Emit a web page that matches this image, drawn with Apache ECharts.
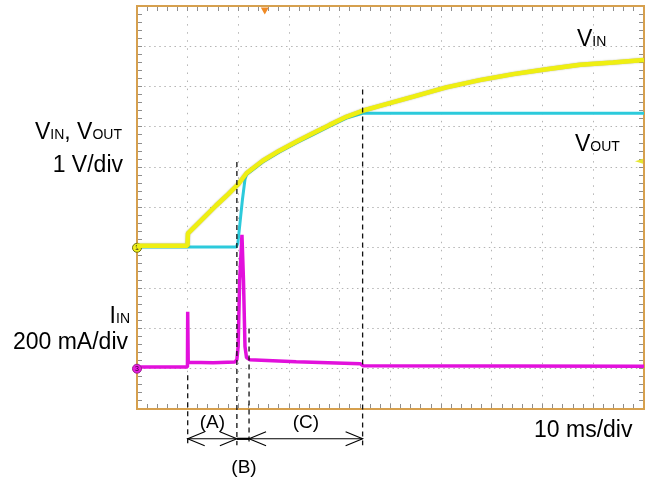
<!DOCTYPE html>
<html>
<head>
<meta charset="utf-8">
<script src="https://cdn.jsdelivr.net/npm/echarts@6/dist/echarts.min.js"></script>
<style>
  html, body { margin: 0; padding: 0; background: #ffffff; }
  #chart { width: 651px; height: 482px; }
</style>
</head>
<body>
<div id="chart"></div>
<script>
// ---- Captured waveforms (10 ms/div, 1 V/div, 200 mA/div) ----
// Input voltage, channel 1 (ms, V)
const vinTime  = [0, 9.95, 10.05, 12.0, 15.6, 18.0, 19.9, 21.6, 24.8, 28.1, 31.4, 34.7, 38.0, 41.3, 44.5, 47.9, 54.5, 61.0, 67.6, 74.2, 80.8, 87.4, 93.9, 100];
const vinVolts = [0.05, 0.05, 0.36, 0.60, 1.05, 1.33, 1.57, 1.85, 2.16, 2.41, 2.63, 2.84, 3.05, 3.25, 3.40, 3.52, 3.75, 3.98, 4.16, 4.31, 4.43, 4.54, 4.60, 4.66];

// Output voltage, channel 2 (ms, V)
const voutTime  = [0, 19.6, 19.9, 20.3, 20.8, 21.3, 21.6, 24.8, 28.1, 31.4, 34.7, 38.0, 41.3, 44.5, 100];
const voutVolts = [0.02, 0.02, 0.12, 0.60, 1.20, 1.70, 1.82, 2.13, 2.38, 2.60, 2.81, 3.02, 3.22, 3.34, 3.34];

// Input current, channel 3 (ms, mA)
const iinTime      = [0, 9.95, 10.0, 10.1, 15.0, 19.3, 19.7, 19.95, 20.25, 20.7, 21.0, 21.3, 21.6, 22.2, 31.4, 44.0, 44.6, 100];
const iinMilliamps = [8, 8, 283, 32, 30, 33, 45, 110, 440, 664, 440, 110, 55, 45, 35, 25, 15, 12];

// Start-up phases (ms)
const phaseBounds = [10, 19.7, 22.1, 44.5];
const phaseNames  = ['(A)', '(B)', '(C)'];

// Scope markers
const triggerTime = 25.2;   // ms
const triggerLevel = 2.15;  // V

// ---- Screen layout / style ----
const FONT = "'Liberation Sans', Arial, Helvetica, sans-serif";
const H_DIVS = 10, V_DIVS = 10, SUBDIVS = 5, MS_PER_DIV = 10;
const guideTopDiv = [0.84, 6.13, 2.0, 7.93];   // where each dashed guide starts (divisions)
const guideBottomDiv = -0.9;
const arrowRowDiv = -0.74;
const labelAboveDiv = -0.35;
const labelBelowDiv = -1.45;

const pairs = (xs, ys) => xs.map((x, i) => [x, ys[i]]);
const snap = v => Math.round(v - 0.5) + 0.5;

const chart = echarts.init(document.getElementById('chart'), null, { renderer: 'canvas' });

const bigTxt = { fontSize: 23, fontFamily: FONT, fill: '#000', verticalAlign: 'bottom' };
const subTxt = { fontSize: 14, fontFamily: FONT, fill: '#000', verticalAlign: 'bottom', padding: [0, 0, 2, 0] };

function label(x, y, text, align) {
  return {
    type: 'text', x: x, y: y, z: 10,
    style: { text: text, rich: { b: bigTxt, s: subTxt }, align: align, verticalAlign: 'middle', fill: '#000', fontSize: 23, fontFamily: FONT }
  };
}

// Scope graticule: dotted division lines plus sub-division ticks on the frame
function renderGraticule(params, api) {
  const ch = [];
  const P = (t, d) => api.coord([t, d]);
  const xMax = H_DIVS * MS_PER_DIV;
  const dots = { stroke: '#b4b4b4', lineWidth: 1 };
  const tick = { stroke: '#8e8e8e', lineWidth: 1 };
  const top = P(0, V_DIVS)[1], bottom = P(0, 0)[1];
  const left = P(0, 0)[0], right = P(xMax, 0)[0];
  for (let k = 1; k < H_DIVS; k++) {
    const x = snap(P(k * MS_PER_DIV, 0)[0]);
    ch.push({ type: 'line', shape: { x1: x, y1: top + 2, x2: x, y2: bottom - 2 },
      style: Object.assign({ lineDash: [1.5, 6.56] }, dots) });
  }
  for (let k = 1; k < V_DIVS; k++) {
    const y = snap(P(0, k)[1]);
    ch.push({ type: 'line', shape: { x1: left + 2, y1: y, x2: right - 2, y2: y },
      style: Object.assign({ lineDash: [1.5, 3.57] }, dots) });
  }
  for (let m = 1; m < H_DIVS * SUBDIVS; m++) {
    const x = snap(P(m * MS_PER_DIV / SUBDIVS, 0)[0]);
    ch.push({ type: 'line', shape: { x1: x, y1: top + 1, x2: x, y2: top + 5 }, style: tick });
    ch.push({ type: 'line', shape: { x1: x, y1: bottom - 1, x2: x, y2: bottom - 5 }, style: tick });
  }
  for (let m = 1; m < V_DIVS * SUBDIVS; m++) {
    const y = snap(P(0, m / SUBDIVS)[1]);
    ch.push({ type: 'line', shape: { x1: left + 1, y1: y, x2: left + 5, y2: y }, style: tick });
    ch.push({ type: 'line', shape: { x1: right - 1, y1: y, x2: right - 5, y2: y }, style: tick });
  }
  return { type: 'group', children: ch };
}

const option = {
  animation: false,
  backgroundColor: '#ffffff',
  grid: {
    left: 137, right: 7, top: 6, bottom: 73,
    show: true, borderColor: '#D6A04E', borderWidth: 2, backgroundColor: 'transparent'
  },
  xAxis: [
    { type: 'value', min: 0, max: H_DIVS * MS_PER_DIV, interval: MS_PER_DIV, show: false }
  ],
  yAxis: [
    { type: 'value', min: 0, max: V_DIVS, interval: 1, show: false },     // divisions
    { type: 'value', min: -4, max: 6, interval: 1, show: false },         // volts, 1 V/div
    { type: 'value', min: -200, max: 1800, interval: 200, show: false }   // mA, 200 mA/div
  ],
  graphic: [
    label(122, 133, '{b|V}{s|IN}{b|, V}{s|OUT}', 'right'),
    label(123, 166, '{b|1 V/div}', 'right'),
    label(130, 317, '{b|I}{s|IN}', 'right'),
    label(128, 343, '{b|200 mA/div}', 'right'),
    label(577, 40, '{b|V}{s|IN}', 'left'),
    label(575, 145, '{b|V}{s|OUT}', 'left'),
    label(534, 431, '{b|10 ms/div}', 'left')
  ],
  series: [
    {
      type: 'custom', xAxisIndex: 0, yAxisIndex: 0, clip: false, z: 1, silent: true,
      data: [[0, 0]],
      renderItem: renderGraticule
    },
    {
      name: 'IIN', type: 'line', xAxisIndex: 0, yAxisIndex: 2,
      data: pairs(iinTime, iinMilliamps),
      showSymbol: false, symbol: 'none', z: 4,
      lineStyle: { color: '#E210DC', width: 3.5 },
      markPoint: {
        data: [{ coord: [0, 0], symbol: 'circle', symbolSize: 9,
          itemStyle: { color: '#E81BE0', borderColor: '#9a2090', borderWidth: 1 },
          label: { show: true, formatter: '3', fontSize: 7, color: '#300030', position: 'inside' } }]
      }
    },
    {
      name: 'VOUT', type: 'line', xAxisIndex: 0, yAxisIndex: 1,
      data: pairs(voutTime, voutVolts),
      showSymbol: false, symbol: 'none', z: 3,
      lineStyle: { color: '#2CCADB', width: 3 }
    },
    {
      name: 'VIN', type: 'line', xAxisIndex: 0, yAxisIndex: 1,
      data: pairs(vinTime, vinVolts),
      showSymbol: false, symbol: 'none', z: 5,
      lineStyle: { color: '#EFEF12', width: 4.5, shadowColor: 'rgba(110,110,20,0.55)', shadowBlur: 1.5 },
      markPoint: {
        data: [
          { coord: [0, 0], symbol: 'circle', symbolSize: 9,
            itemStyle: { color: '#F2F21A', borderColor: '#6f6f10', borderWidth: 1 },
            label: { show: true, formatter: '1', fontSize: 7, color: '#222', position: 'inside' } },
          { coord: [100, triggerLevel], symbol: 'triangle', symbolRotate: 90, symbolSize: [5, 8], symbolOffset: [-5, 0],
            itemStyle: { color: '#E6E630' }, label: { show: false } },
          { coord: [triggerTime, 6], symbol: 'triangle', symbolRotate: 180, symbolSize: [8, 7], symbolOffset: [0, 5],
            itemStyle: { color: '#F08A24' }, label: { show: false } }
        ]
      }
    },
    {
      // dashed guides marking phase boundaries
      type: 'custom', xAxisIndex: 0, yAxisIndex: 0, clip: false, z: 8,
      data: phaseBounds.map((t, i) => [t, guideTopDiv[i]]),
      renderItem: function (params, api) {
        const x = api.coord([api.value(0), 0])[0];
        const y1 = api.coord([0, api.value(1)])[1];
        const y2 = api.coord([0, guideBottomDiv])[1];
        return { type: 'line', shape: { x1: x, y1: y1, x2: x, y2: y2 },
          style: { stroke: '#111', lineWidth: 1.3, lineDash: [5, 4] } };
      }
    },
    {
      // phase spans with arrows and names
      type: 'custom', xAxisIndex: 0, yAxisIndex: 0, clip: false, z: 8,
      data: phaseNames.map((n, i) => [phaseBounds[i], phaseBounds[i + 1], i]),
      renderItem: function (params, api) {
        const a = api.coord([api.value(0), arrowRowDiv]);
        const b = api.coord([api.value(1), arrowRowDiv]);
        const name = phaseNames[api.value(2)];
        const y = a[1];
        const arm = 17, half = 7;
        const children = [];
        const narrow = (b[0] - a[0]) < 2 * arm;
        if (narrow) {
          children.push({ type: 'line', shape: { x1: a[0], y1: y, x2: b[0], y2: y }, style: { stroke: '#000', lineWidth: 2.2 } });
          const ly = api.coord([0, labelBelowDiv])[1];
          children.push({ type: 'text', style: { text: name, x: (a[0] + b[0]) / 2 + 1, y: ly, align: 'center', verticalAlign: 'middle', fontSize: 19, fontFamily: FONT, fill: '#000' } });
        } else {
          children.push({ type: 'line', shape: { x1: a[0], y1: y, x2: b[0], y2: y }, style: { stroke: '#000', lineWidth: 1.1 } });
          children.push({ type: 'polyline', shape: { points: [[a[0] + arm, y - half], [a[0], y], [a[0] + arm, y + half]] }, style: { stroke: '#000', lineWidth: 1.1, fill: null } });
          children.push({ type: 'polyline', shape: { points: [[b[0] - arm, y - half], [b[0], y], [b[0] - arm, y + half]] }, style: { stroke: '#000', lineWidth: 1.1, fill: null } });
          const ly = api.coord([0, labelAboveDiv])[1];
          children.push({ type: 'text', style: { text: name, x: (a[0] + b[0]) / 2, y: ly, align: 'center', verticalAlign: 'middle', fontSize: 19, fontFamily: FONT, fill: '#000' } });
        }
        return { type: 'group', children: children };
      }
    }
  ]
};

chart.setOption(option);
</script>
</body>
</html>
